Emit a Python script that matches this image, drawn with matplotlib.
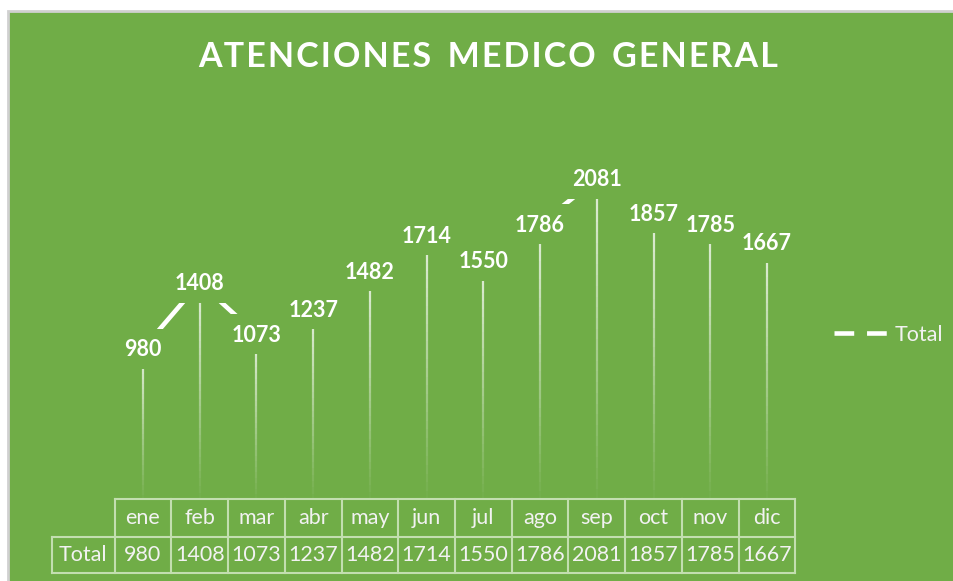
import matplotlib.pyplot as plt
import numpy as np
from matplotlib.patches import Rectangle
from matplotlib.lines import Line2D
from matplotlib.collections import LineCollection
from matplotlib.transforms import blended_transform_factory, ScaledTranslation

meses = ['ene', 'feb', 'mar', 'abr', 'may', 'jun', 'jul', 'ago', 'sep', 'oct', 'nov', 'dic']
total = [980, 1408, 1073, 1237, 1482, 1714, 1550, 1786, 2081, 1857, 1785, 1667]
serie = 'Total'
titulo = 'ATENCIONES MEDICO GENERAL'

verde = '#70AD47'
blanco = '#FFFFFF'
plt.rcParams['font.family'] = ['Lato', 'DejaVu Sans']

W, H = 954, 581
fig = plt.figure(figsize=(W / 100, H / 100), dpi=100, facecolor='white')

def px(x, y):
    return x / W, 1 - y / H

# chart area with grey border
x0, y0 = px(8, 590)
x1, y1 = px(960, 11)
fig.patches.append(Rectangle((x0, y0), x1 - x0, y1 - y0, transform=fig.transFigure,
                             facecolor=verde, edgecolor='#d0d0d0', lw=2, zorder=-5))

l, b = px(114.6, 500)
r, t = px(795.4, 114)
ax = fig.add_axes([l, b, r - l, t - b])
ax.set_facecolor('none')
for s in ax.spines.values():
    s.set_visible(False)
ax.set_xticks([])
ax.set_yticks([])
ax.set_xlim(-0.5, len(meses) - 0.5)
ax.set_ylim(0, 2500)

x = np.arange(len(meses))

# drop lines fading toward the bottom
segs, cols = [], []
n = 30
for xi, v in zip(x, total):
    ys = np.linspace(0, v, n + 1)
    for k in range(n):
        segs.append([(xi, ys[k]), (xi, ys[k + 1])])
        cols.append((1, 1, 1, 0.8 * (k + 1) / n))
ax.add_collection(LineCollection(segs, colors=cols, linewidths=1.6, zorder=1))

ax.plot(x, total, color=blanco, lw=3.3, zorder=2, solid_capstyle='butt')

# labels sit on the points, a green box hides most of the line
for xi, v in zip(x, total):
    s = str(v)
    hw = (6.3 * len(s) + 7) / 100.0
    hh = 0.2
    tr_pt = fig.dpi_scale_trans + ScaledTranslation(xi, v, ax.transData)
    ax.add_patch(Rectangle((-hw, -hh), 2 * hw, 2 * hh, transform=tr_pt,
                           facecolor=verde, edgecolor='none', zorder=2.5))
    ax.annotate(s, (xi, v), xytext=(0, -5.6), textcoords='offset points',
                ha='center', va='baseline', color=blanco, fontsize=15.5,
                fontweight='bold', zorder=3)

# title
fig.text(*px(488, 57), '\u200a'.join(titulo).replace('\u200a \u200a', '  '),
         ha='center', va='center', color=blanco, fontsize=24.5, fontweight='bold')

# legend
h = Line2D([], [], color=blanco, lw=3.3, dashes=(4.3, 2.8), dash_capstyle='butt')
leg = ax.legend([h], [serie], loc='center left', bbox_to_anchor=px(815, 335),
                bbox_transform=fig.transFigure, frameon=False, fontsize=15.5,
                handlelength=2.7, handletextpad=0.1)
for txt in leg.get_texts():
    txt.set_color('#f2f2f2')

# data table
tr = blended_transform_factory(ax.transData, fig.transFigure)
lc = '#c3deb0'
ya, yb, yc = px(0, 499)[1], px(0, 537)[1], px(0, 573)[1]
xl = -0.5 - 63 / 56.7
for xb in np.arange(-0.5, len(meses) + 0.5, 1.0):
    fig.lines.append(Line2D([xb, xb], [ya, yc], transform=tr, color=lc, lw=1.5))
fig.lines.append(Line2D([xl, xl], [yb, yc], transform=tr, color=lc, lw=1.5))
fig.lines.append(Line2D([-0.5, len(meses) - 0.5], [ya, ya], transform=tr, color=lc, lw=1.5))
fig.lines.append(Line2D([xl, len(meses) - 0.5], [yb, yb], transform=tr, color=lc, lw=1.5))
fig.lines.append(Line2D([xl, len(meses) - 0.5], [yc, yc], transform=tr, color=lc, lw=1.5))

tc = '#f2f2f2'
fs = 15.5
for xi, m, v in zip(x, meses, total):
    fig.text(xi, (ya + yb) / 2, m, transform=tr, ha='center', va='center', color=tc, fontsize=fs)
    fig.text(xi, (yb + yc) / 2, str(v), transform=tr, ha='center', va='center', color=tc, fontsize=fs)
fig.text((xl - 0.5) / 2, (yb + yc) / 2, serie, transform=tr, ha='center', va='center',
         color=tc, fontsize=fs)

fig.savefig('out.png', dpi=100, facecolor='white')
